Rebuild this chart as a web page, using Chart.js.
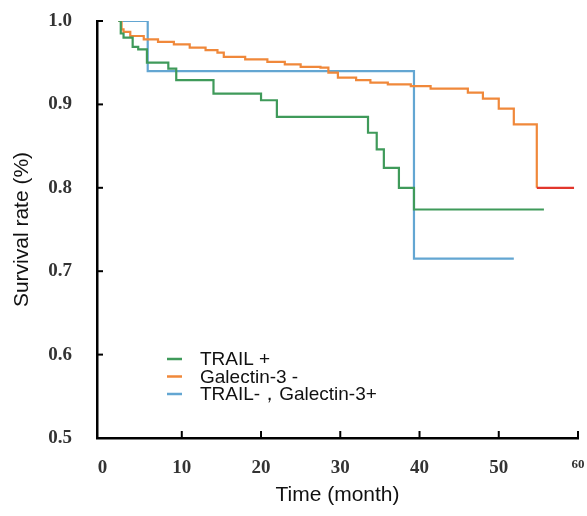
<!DOCTYPE html>
<html lang="en">
<head>
    <meta charset="UTF-8">
    <title>Survival</title>
    <script src="https://cdn.jsdelivr.net/npm/chart.js"></script>
    <style>
        body { margin: 0; background: #fff; }
        .wrap { width: 587px; height: 516px; position: relative; }
    </style>
</head>
<body>
    <div class="wrap"><canvas id="survivalChart"></canvas></div>

    <script>
        const seriesNames = ['TRAIL +', 'Galectin-3 -', 'TRAIL-，Galectin-3+'];

        // time (month) / survival rate pairs
        const trailTime = [2.0, 2.3, 2.65, 3.8, 4.5, 5.6, 8.3, 9.3, 14.0, 20.0, 22.0, 33.5, 34.6, 35.5, 37.4, 39.3, 55.7];
        const trailRate = [1.0, 0.985, 0.98, 0.969, 0.966, 0.95, 0.943, 0.929, 0.913, 0.905, 0.885, 0.866, 0.846, 0.824, 0.80, 0.774, 0.774];

        const galTime = [2.0, 2.4, 2.65, 3.5, 5.2, 7, 9.0, 11, 13, 14.5, 15.3, 18, 20.8, 23, 25.0, 27.5, 28.5, 29.7, 32, 33.8, 36, 38.9, 41.4, 46.1, 48.0, 50.0, 51.9, 54.8, 59.5];
        const galRate = [1.0, 0.99, 0.987, 0.982, 0.978, 0.975, 0.972, 0.968, 0.965, 0.962, 0.957, 0.954, 0.951, 0.948, 0.945, 0.944, 0.938, 0.932, 0.929, 0.926, 0.924, 0.922, 0.919, 0.914, 0.907, 0.895, 0.876, 0.80, 0.80];

        const bothTime = [2.0, 5.7, 39.3, 51.9];
        const bothRate = [1.0, 0.94, 0.715, 0.715];

        const xTicks = [0, 10, 20, 30, 40, 50, 60];
        const yTicks = [0.5, 0.6, 0.7, 0.8, 0.9, 1.0];

        const colors = ['#3f9a5a', '#f0883a', '#63a6d2'];
        const endRed = '#e2362c';

        function pairs(xs, ys) {
            return xs.map((x, i) => ({ x: x, y: ys[i] }));
        }

        // inward tick marks + legend drawn inside the plot
        const decor = {
            id: 'decor',
            afterDraw(chart) {
                const ctx = chart.ctx;
                const xs = chart.scales.x, ys = chart.scales.y;
                const area = chart.chartArea;
                ctx.save();
                ctx.strokeStyle = '#000';
                ctx.lineWidth = 2;
                xTicks.forEach(v => {
                    if (v === 0) return;
                    const px = xs.getPixelForValue(v);
                    ctx.beginPath();
                    ctx.moveTo(px, area.bottom);
                    ctx.lineTo(px, area.bottom - 7);
                    ctx.stroke();
                });
                yTicks.forEach(v => {
                    const py = ys.getPixelForValue(v);
                    ctx.beginPath();
                    ctx.moveTo(area.left, py);
                    ctx.lineTo(area.left + 6, py);
                    ctx.stroke();
                });

                ctx.font = '19px "Liberation Sans", Arial, sans-serif';
                ctx.textBaseline = 'middle';
                ctx.fillStyle = '#111';
                seriesNames.forEach((name, i) => {
                    const y = 359 + i * 17.5;
                    ctx.strokeStyle = colors[i];
                    ctx.lineWidth = 2.5;
                    ctx.beginPath();
                    ctx.moveTo(167, y);
                    ctx.lineTo(182, y);
                    ctx.stroke();
                    ctx.fillText(name, 200, y + 1);
                });
                ctx.restore();
            }
        };

        const ctx = document.getElementById('survivalChart').getContext('2d');
        new Chart(ctx, {
            type: 'line',
            data: {
                datasets: [{
                    label: seriesNames[0],
                    data: pairs(trailTime, trailRate),
                    borderColor: colors[0]
                }, {
                    label: seriesNames[1],
                    data: pairs(galTime, galRate),
                    borderColor: colors[1],
                    segment: {
                        borderColor: c => c.p0.parsed.x >= 54 ? endRed : colors[1]
                    }
                }, {
                    label: seriesNames[2],
                    data: pairs(bothTime, bothRate),
                    borderColor: colors[2]
                }]
            },
            options: {
                responsive: true,
                maintainAspectRatio: false,
                animation: false,
                datasets: {
                    line: { stepped: 'before', borderWidth: 2.2, pointRadius: 0, fill: false }
                },
                layout: { padding: { top: 21, right: 9, left: 0, bottom: 0 } },
                plugins: {
                    legend: { display: false },
                    tooltip: { enabled: false }
                },
                scales: {
                    x: {
                        type: 'linear',
                        min: -0.7,
                        max: 60,
                        afterBuildTicks: s => { s.ticks = xTicks.map(v => ({ value: v })); },
                        afterFit: s => { s.height = 78; s.paddingLeft = 0; s.paddingRight = 0; },
                        grid: { display: false },
                        border: { color: '#000', width: 2.5 },
                        ticks: {
                            color: '#333',
                            padding: 11,
                            maxRotation: 0,
                            font: c => ({
                                family: '"Liberation Serif", "Times New Roman", serif',
                                weight: 'bold',
                                size: c.tick && c.tick.value === 60 ? 13 : 19
                            })
                        },
                        title: {
                            display: true,
                            text: 'Time (month)',
                            color: '#111',
                            padding: { top: 0, bottom: 8 },
                            font: { family: '"Liberation Sans", Arial, sans-serif', size: 21 }
                        }
                    },
                    y: {
                        min: 0.5,
                        max: 1.0,
                        afterBuildTicks: s => { s.ticks = yTicks.map(v => ({ value: v })); },
                        afterFit: s => { s.width = 97; s.paddingTop = 0; s.paddingBottom = 0; },
                        grid: { display: false },
                        border: { color: '#000', width: 2.5 },
                        ticks: {
                            color: '#333',
                            padding: 17,
                            callback: v => v.toFixed(1),
                            font: { family: '"Liberation Serif", "Times New Roman", serif', weight: 'bold', size: 19 }
                        },
                        title: {
                            display: true,
                            text: 'Survival rate (%)',
                            color: '#111',
                            padding: { top: 10, bottom: 0 },
                            font: { family: '"Liberation Sans", Arial, sans-serif', size: 21 }
                        }
                    }
                }
            },
            plugins: [decor]
        });
    </script>
</body>
</html>
